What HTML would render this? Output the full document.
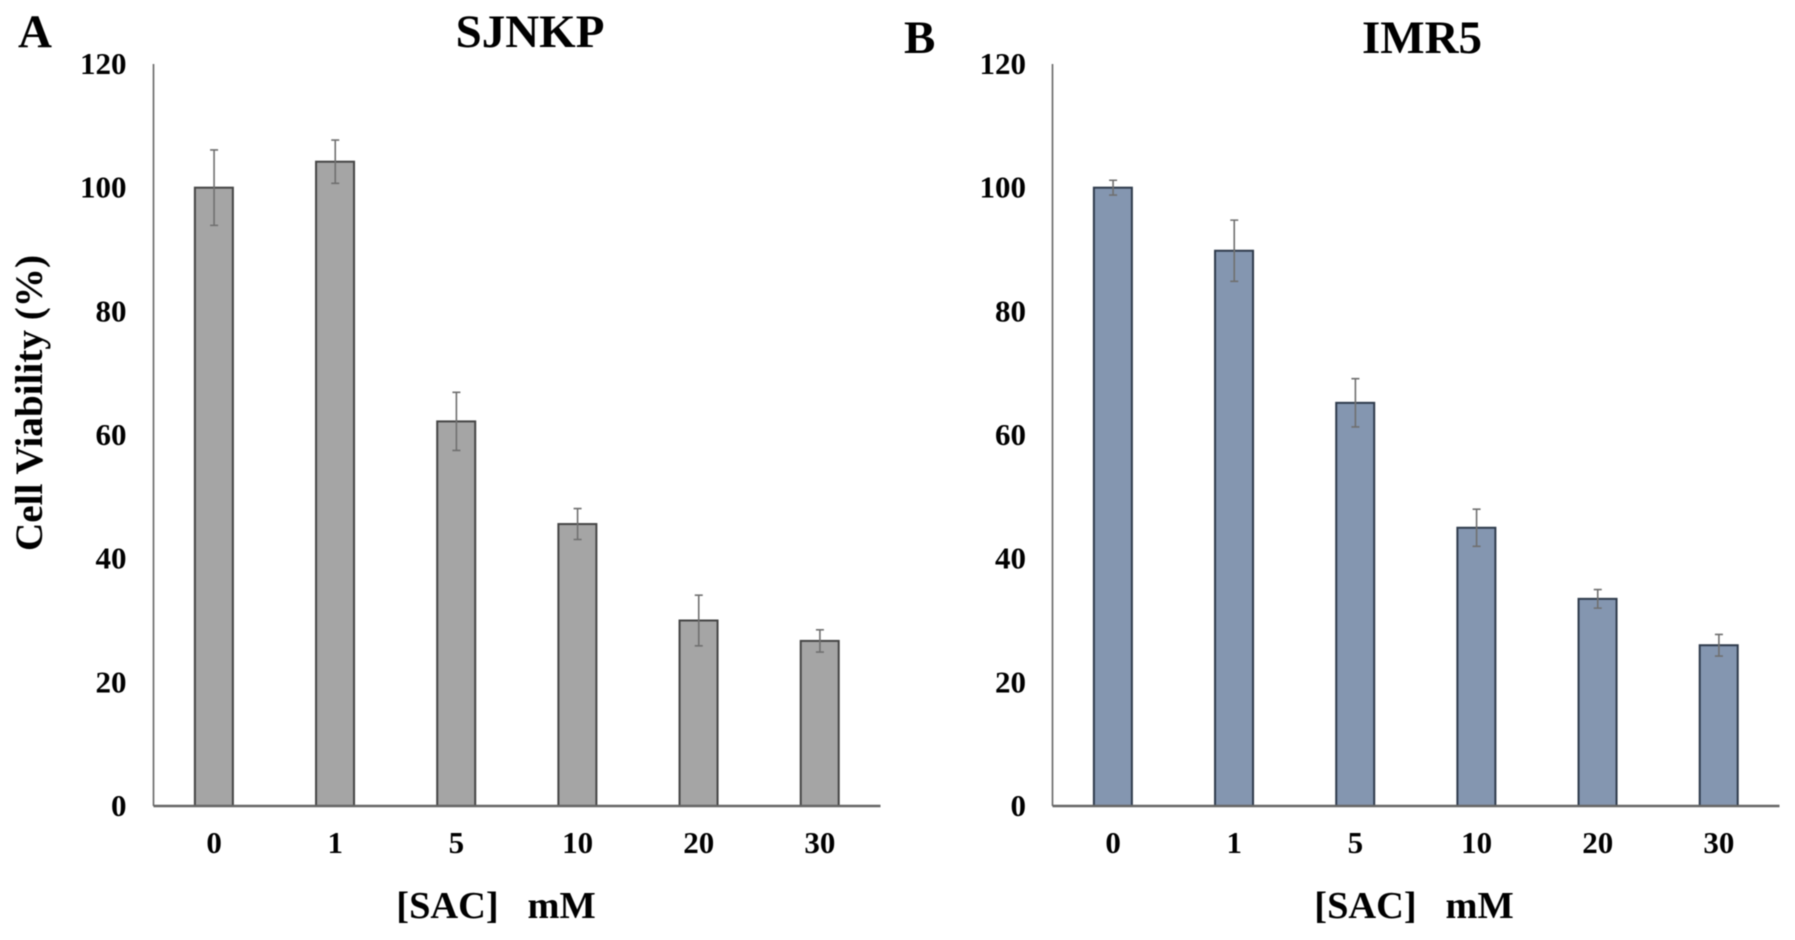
<!DOCTYPE html>
<html lang="en">
<head>
<meta charset="utf-8">
<title>Cell Viability: SJNKP and IMR5</title>
<style>
html,body{margin:0;padding:0;background:#fff;}
#figure{display:block;width:1795px;height:940px;filter:blur(0.55px);}
text{font-family:"Liberation Serif",serif;font-weight:bold;fill:#000;}
.tick{font-size:31px;}
.panel-letter,.chart-title{font-size:47px;}
.x-title{font-size:38.4px;white-space:pre;}
.y-title{font-size:39.2px;}
</style>
</head>
<body>
<svg id="figure" xmlns="http://www.w3.org/2000/svg" width="1795" height="940" viewBox="0 0 1795 940">
  <rect width="1795" height="940" fill="#fff"/>
  <text class="panel-letter" x="18" y="47">A</text>
  <text class="chart-title" x="530" y="47" text-anchor="middle">SJNKP</text>
  <text class="panel-letter" x="904" y="53">B</text>
  <text class="chart-title" x="1422" y="53" text-anchor="middle">IMR5</text>
  <text class="y-title" transform="translate(42,403) rotate(-90)" text-anchor="middle">Cell Viability (%)</text>
  <text class="x-title" x="496" y="918" text-anchor="middle" xml:space="preserve">[SAC]   mM</text>
  <text class="x-title" x="1414" y="918" text-anchor="middle" xml:space="preserve">[SAC]   mM</text>
  <g id="panel-a"></g>
  <g id="panel-b"></g>
</svg>
<script>
const categories = ["0", "1", "5", "10", "20", "30"];
const yTickLabels = [0, 20, 40, 60, 80, 100, 120];
const yMax = 120;
const sjnkpValues = [100, 104.2, 62.2, 45.6, 30, 26.7];
const sjnkpErrors = [6.1, 3.5, 4.7, 2.5, 4.1, 1.8];
const imr5Values = [100, 89.8, 65.2, 45, 33.5, 26];
const imr5Errors = [1.2, 4.95, 3.9, 3.0, 1.5, 1.75];

const SVG_NS = "http://www.w3.org/2000/svg";
const plotTop = 64;
const plotBottom = 806;
const barWidth = 38;

function yScale(v) {
  return plotBottom - (v / yMax) * (plotBottom - plotTop);
}

function make(parent, tag, attrs) {
  const el = document.createElementNS(SVG_NS, tag);
  for (const k in attrs) el.setAttribute(k, attrs[k]);
  parent.appendChild(el);
  return el;
}

function drawPanel(groupId, prefix, axisLeft, axisRight, labelRight, values, errors, fill, stroke) {
  const g = document.getElementById(groupId);
  const step = (axisRight - axisLeft) / categories.length;
  const xScale = function (i) { return axisLeft + step * (i + 0.5); };

  yTickLabels.forEach(function (t) {
    const label = make(g, "text", { class: "tick", x: labelRight, y: yScale(t) + 10, "text-anchor": "end" });
    label.textContent = String(t);
    
    
  });

  values.forEach(function (v, i) {
    const cx = xScale(i);
    const bar = make(g, "rect", {
      x: cx - barWidth / 2 - 0.2, y: yScale(v), width: barWidth, height: plotBottom - yScale(v),
      fill: fill, stroke: stroke, "stroke-width": 2
    });
    
    

    const hi = yScale(v + errors[i]);
    const lo = yScale(v - errors[i]);
    const err = make(g, "path", {
      d: "M" + cx + " " + hi + "V" + lo + "M" + (cx - 4) + " " + hi + "H" + (cx + 4) + "M" + (cx - 4) + " " + lo + "H" + (cx + 4),
      fill: "none", stroke: "#707070", "stroke-width": 1.6
    });
    
    

    const label = make(g, "text", { class: "tick", x: cx, y: 853, "text-anchor": "middle" });
    label.textContent = categories[i];
    
    
  });

  const yAxis = make(g, "line", { x1: axisLeft, x2: axisLeft, y1: plotTop, y2: plotBottom, stroke: "#666", "stroke-width": 1.6 });
  
  

  const xAxis = make(g, "line", { x1: axisLeft, x2: axisRight, y1: plotBottom, y2: plotBottom, stroke: "#666", "stroke-width": 2.4 });
  
  
}

drawPanel("panel-a", "sjnkp", 153.5, 880.5, 126.5, sjnkpValues, sjnkpErrors, "#a5a5a5", "#454545");
drawPanel("panel-b", "imr5", 1052.5, 1779.5, 1026, imr5Values, imr5Errors, "#8496b0", "#2f3b4c");
</script>
</body>
</html>
